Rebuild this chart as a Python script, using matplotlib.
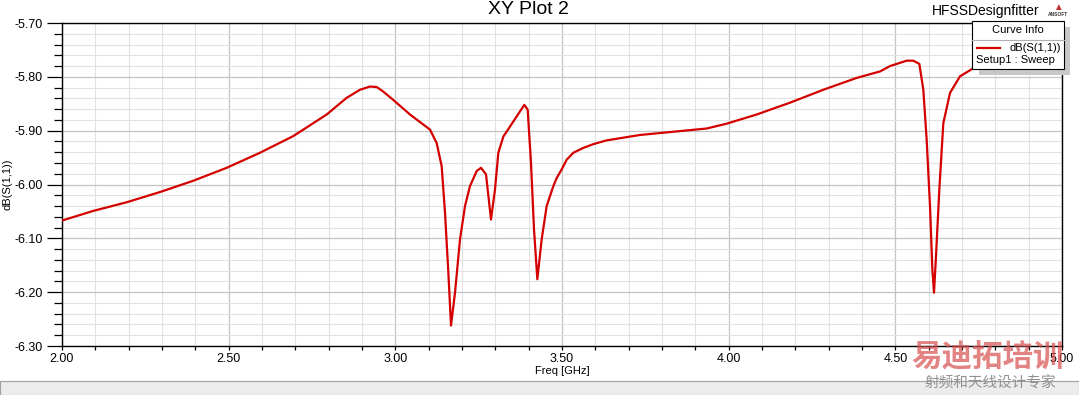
import matplotlib
matplotlib.use('Agg')
import matplotlib.pyplot as plt
from matplotlib.patches import Rectangle
from matplotlib.lines import Line2D
from matplotlib.ticker import MultipleLocator, FormatStrFormatter

plt.rcParams['font.family'] = ['Liberation Sans', 'DejaVu Sans']

# S11 curve
freq = [2.000, 2.094, 2.194, 2.294, 2.394, 2.494, 2.594, 2.694, 2.794, 2.854,
        2.894, 2.924, 2.944, 2.963, 2.994, 3.044, 3.104, 3.124, 3.139, 3.149, 3.159,
        3.167, 3.179, 3.194, 3.209, 3.224, 3.244, 3.257, 3.272, 3.287, 3.299,
        3.309, 3.324, 3.354, 3.387, 3.397, 3.407, 3.416, 3.426, 3.439, 3.454,
        3.474, 3.484, 3.499, 3.514, 3.534, 3.564, 3.594, 3.634, 3.734, 3.834, 3.934, 3.994,
        4.084, 4.184, 4.284, 4.384, 4.454, 4.484, 4.534, 4.554, 4.572, 4.584,
        4.594, 4.604, 4.611, 4.616, 4.622, 4.632, 4.644, 4.664, 4.694, 4.734,
        4.800, 4.900, 5.000]
s11_db = [-6.067, -6.049, -6.033, -6.014, -5.993, -5.969, -5.941, -5.910, -5.870, -5.839,
          -5.824, -5.818, -5.819, -5.827, -5.843, -5.870, -5.898, -5.923, -5.966, -6.052, -6.163,
          -6.262, -6.201, -6.102, -6.040, -6.003, -5.975, -5.969, -5.981, -6.065, -6.009,
          -5.941, -5.911, -5.883, -5.852, -5.861, -5.960, -6.083, -6.176, -6.102, -6.040,
          -6.003, -5.988, -5.972, -5.954, -5.941, -5.932, -5.925, -5.918, -5.908, -5.902, -5.896, -5.887,
          -5.870, -5.848, -5.824, -5.802, -5.790, -5.780, -5.770, -5.770, -5.776, -5.824,
          -5.917, -6.040, -6.157, -6.201, -6.133, -6.009, -5.886, -5.830, -5.799, -5.784,
          -5.775, -5.768, -5.762]

W, H = 1079, 395
fig = plt.figure(figsize=(W / 100, H / 100), dpi=100)
fig.patch.set_facecolor('white')


def fx(px):
    return px / W


def fy(py):
    return 1 - py / H


ax = fig.add_axes([fx(62), fy(346), fx(1062) - fx(62), fy(23) - fy(346)])
ax.plot(freq, s11_db, color='#d40000', linewidth=1.6, zorder=3)

ax.set_xlim(2.0, 5.0)
ax.set_ylim(-6.30, -5.70)
ax.xaxis.set_major_locator(MultipleLocator(0.5))
ax.xaxis.set_minor_locator(MultipleLocator(0.1))
ax.yaxis.set_major_locator(MultipleLocator(0.1))
ax.yaxis.set_minor_locator(MultipleLocator(0.02))
ax.xaxis.set_major_formatter(FormatStrFormatter('%.2f'))
ax.yaxis.set_major_formatter(FormatStrFormatter('%.2f'))

ax.grid(True, which='major', color='#c4c4c4', linewidth=0.9)
ax.grid(True, which='minor', color='#e2e2e2', linewidth=0.8)
ax.set_axisbelow(True)

ax.tick_params(axis='y', which='major', length=11, width=0.9, pad=3, labelsize=9)
ax.tick_params(axis='y', which='minor', length=6, width=0.9)
ax.tick_params(axis='x', which='major', length=3, width=0.9, pad=2, labelsize=9)
ax.tick_params(axis='x', which='minor', length=3, width=0.9)
for sp in ax.spines.values():
    sp.set_linewidth(1.0)

ax.set_xlabel('Freq [GHz]', fontsize=8, labelpad=1)
ax.set_ylabel('dB(S(1,1))', fontsize=8, labelpad=1)

# title block
fig.text(fx(528), fy(10), 'XY Plot 2', ha='center', va='center', fontsize=14)
fig.text(fx(986), fy(11), 'HFSSDesignfitter', ha='center', va='center', fontsize=10)
fig.text(fx(1058), fy(7), '\u25b2', ha='center', va='center', fontsize=7, color='#c03030')
fig.text(fx(1058), fy(15), 'ANSOFT', ha='center', va='center', fontsize=3.5,
         fontweight='bold', color='#333333')

# legend box (Curve Info) with shadow
fig.patches.append(Rectangle((fx(979), fy(75)), fx(91), fy(27) - fy(75),
                             transform=fig.transFigure, facecolor='#c8c8c8',
                             edgecolor='none', zorder=5))
fig.patches.append(Rectangle((fx(972), fy(69)), fx(92), fy(21) - fy(69),
                             transform=fig.transFigure, facecolor='white',
                             edgecolor='black', linewidth=0.8, zorder=6))
fig.lines.append(Line2D([fx(972), fx(1064)], [fy(40), fy(40)],
                        transform=fig.transFigure, color='#b0b0b0',
                        linewidth=0.8, zorder=7))
fig.text(fx(1018), fy(30), 'Curve Info', ha='center', va='center', fontsize=8, zorder=8)
fig.lines.append(Line2D([fx(977), fx(1000)], [fy(48), fy(48)],
                        transform=fig.transFigure, color='#d40000',
                        linewidth=1.6, zorder=7))
fig.text(fx(1061), fy(48), 'dB(S(1,1))', ha='right', va='center', fontsize=8, zorder=8)
fig.text(fx(976), fy(60), 'Setup1 : Sweep', ha='left', va='center', fontsize=8, zorder=8)

# window status bar strip at the bottom
fig.patches.append(Rectangle((0, 0), 1, fy(381), transform=fig.transFigure,
                             facecolor='#ececec', edgecolor='#a0a0a0',
                             linewidth=0.8, zorder=1))

# watermark
fig.text(fx(988), fy(357), '易迪拓培训', ha='center', va='center', fontsize=22,
         fontweight='bold', color='#d85050', alpha=0.7,
         family=['Noto Sans CJK SC', 'DejaVu Sans'], zorder=9)
fig.text(fx(990), fy(384), '射频和天线设计专家', ha='center', va='center', fontsize=10.5,
         color='#909090', family=['Noto Sans CJK SC', 'DejaVu Sans'], zorder=9)

fig.savefig('out.png', dpi=100)
